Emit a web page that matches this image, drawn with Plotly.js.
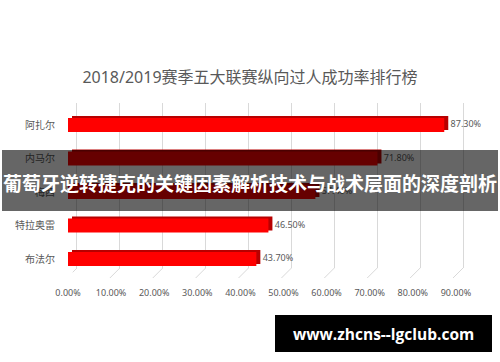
<!DOCTYPE html>
<html><head><meta charset="utf-8">
<script src="https://cdn.plot.ly/plotly-3.0.1.min.js"></script>
<style>html,body{margin:0;padding:0;background:#fff}#c{width:500px;height:362px}</style>
</head><body><div id="c"></div>
<script>
const players = ['阿扎尔', '内马尔', '梅西', '特拉奥雷', '布法尔'];
const successRate = [87.3, 71.8, 57.4, 46.5, 43.7];
const tickVals = [0, 10, 20, 30, 40, 50, 60, 70, 80, 90];
const tickLabels = ['0.00%', '10.00%', '20.00%', '30.00%', '40.00%', '50.00%', '60.00%', '70.00%', '80.00%', '90.00%'];
const valueLabels = successRate.map(v => '\u00a0' + v.toFixed(2) + '%');
const chartTitle = '2018/2019赛季五大联赛纵向过人成功率排行榜';
const bannerText = '葡萄牙逆转捷克的关键因素解析技术与战术层面的深度剖析';
const watermarkText = 'www.zhcns--lgclub.com';

const W = 500, H = 362;
const px = v => v / W;
const py = v => 1 - v / H;
const FONT = 'Noto Sans, Noto Sans CJK SC, sans-serif';
const GRAY = '#595959';

const traces = [
  { type: 'scatter', x: tickVals, y: tickVals.map(() => 0.5), xaxis: 'x', yaxis: 'y',
    mode: 'markers', marker: { opacity: 0 }, hoverinfo: 'skip', showlegend: false },
  { type: 'bar', orientation: 'h', x: successRate, y: players, xaxis: 'x2', yaxis: 'y2',
    width: 0.42, offset: -0.27, marker: { color: '#b80000' }, hoverinfo: 'skip', showlegend: false },
  { type: 'scatter', mode: 'text', x: successRate, y: players, xaxis: 'x2', yaxis: 'y2',
    text: valueLabels, textposition: 'middle right', textfont: { size: 9, color: GRAY, family: FONT },
    hoverinfo: 'skip', showlegend: false, cliponaxis: false },
  { type: 'bar', orientation: 'h', x: successRate, y: players, xaxis: 'x3', yaxis: 'y3',
    width: 0.42, marker: { color: '#ff0000' }, hoverinfo: 'skip', showlegend: false }
];

const slantShapes = tickVals.map(t => ({
  type: 'line', xref: 'x', xsizemode: 'pixel', xanchor: t, x0: 0, x1: -10,
  yref: 'paper', y0: py(268), y1: py(278), layer: 'below',
  line: { color: '#d9d9d9', width: 1 }
}));

const hidden = { showgrid: false, zeroline: false, showticklabels: false, showline: false, ticks: '' };

const layout = {
  width: W, height: H,
  margin: { l: 0, r: 0, t: 0, b: 0, pad: 0 },
  paper_bgcolor: '#ffffff', plot_bgcolor: 'rgba(0,0,0,0)',
  font: { family: FONT, color: GRAY },
  showlegend: false,
  title: { text: chartTitle, x: 0.5, xref: 'paper', xanchor: 'center', y: py(77), yref: 'paper', yanchor: 'middle',
    font: { size: 16, color: GRAY, family: FONT } },
  xaxis: Object.assign({}, hidden, { domain: [px(72.7), px(467.3)], range: [-1, 91], anchor: 'y',
    showgrid: true, gridcolor: '#d9d9d9', gridwidth: 1, tickmode: 'array', tickvals: tickVals }),
  yaxis: Object.assign({}, hidden, { domain: [py(268), py(103)], range: [0, 1], anchor: 'x' }),
  xaxis2: Object.assign({}, hidden, { domain: [px(72), px(459.9)], range: [0, 90], anchor: 'y2' }),
  yaxis2: Object.assign({}, hidden, { domain: [py(275.75), py(108.25)], type: 'category',
    categoryorder: 'array', categoryarray: players, range: [4.5, -0.5], anchor: 'x2' }),
  xaxis3: { domain: [px(68), px(455.9)], range: [0, 90], anchor: 'y3', showgrid: false, zeroline: false,
    showline: false, tickmode: 'array', tickvals: tickVals, ticktext: tickLabels,
    ticks: 'outside', ticklen: 8, tickcolor: 'rgba(0,0,0,0)',
    tickfont: { size: 9, color: GRAY, family: FONT } },
  yaxis3: { domain: [py(275.75), py(108.25)], type: 'category', categoryorder: 'array', categoryarray: players,
    range: [4.5, -0.5], anchor: 'x3', showgrid: false, zeroline: false, showline: false,
    ticks: 'outside', ticklen: 10, tickcolor: 'rgba(0,0,0,0)',
    tickfont: { size: 10, color: GRAY, family: FONT } },
  shapes: slantShapes.concat([
    { type: 'rect', xref: 'paper', yref: 'paper', x0: px(2), x1: px(498), y0: py(211), y1: py(150),
      fillcolor: 'rgba(0,0,0,0.6)', line: { width: 0 }, layer: 'above' },
    { type: 'rect', xref: 'paper', yref: 'paper', x0: px(275), x1: px(492), y0: py(352), y1: py(315),
      fillcolor: '#000000', line: { width: 0 }, layer: 'above' }
  ]),
  annotations: [
    { text: '<b>' + bannerText + '</b>', xref: 'paper', yref: 'paper', x: px(250), y: py(182),
      xanchor: 'center', yanchor: 'middle', showarrow: false,
      font: { size: 19, color: '#ffffff', family: 'Noto Sans CJK SC, sans-serif' } },
    { text: '<b>' + watermarkText + '</b>', xref: 'paper', yref: 'paper', x: px(383.5), y: py(333.5),
      xanchor: 'center', yanchor: 'middle', showarrow: false,
      font: { size: 15.5, color: '#ffffff', family: 'Open Sans, sans-serif' } }
  ]
};

Plotly.newPlot('c', traces, layout, { staticPlot: true, displayModeBar: false });
</script>
</body></html>
